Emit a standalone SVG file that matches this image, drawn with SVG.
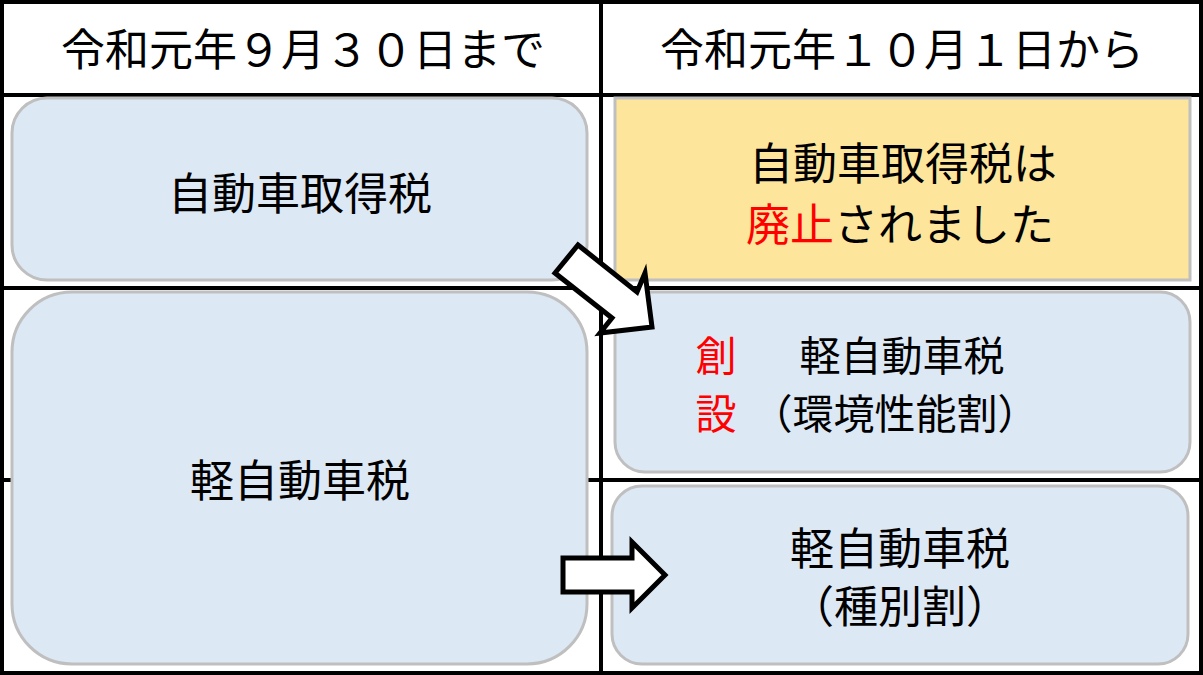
<svg xmlns="http://www.w3.org/2000/svg" width="1203" height="675" viewBox="0 0 1203 675">
<style>
text{font-family:"Noto Sans CJK JP","Noto Sans CJK SC",sans-serif;fill:#000;text-anchor:middle;dominant-baseline:central}
.h{font-size:44px}.t{font-size:44px}.s{font-size:41px}.r{fill:#ff0000}
.b{fill:#dde8f5;stroke:#bfbfbf;stroke-width:3}
.ln{stroke:#000;stroke-width:4}
.ar{fill:#fff;stroke:#000;stroke-width:5;stroke-linejoin:miter}
</style>
<rect width="1203" height="675" fill="#fff"/>
<g id="grid">
<line class="ln" x1="0" y1="95" x2="1203" y2="95"/>
<line class="ln" x1="0" y1="288" x2="1203" y2="288"/>
<line class="ln" x1="0" y1="480" x2="1203" y2="480"/>
<rect x="2" y="2" width="1199" height="671" fill="none" stroke="#000" stroke-width="4"/>
</g>
<g id="h1"><text class="h" x="303" y="47">令和元年９月３０日まで</text></g>
<g id="h2"><text class="h" x="902" y="47">令和元年１０月１日から</text></g>
<g id="n1"><rect class="b" x="12" y="98" width="575" height="182" rx="35"/><text class="t" x="300" y="191">自動車取得税</text></g>
<g id="n2"><rect class="b" x="12" y="292" width="575" height="372" rx="60"/><text class="t" x="300" y="478">軽自動車税</text></g>
<g id="n3"><rect x="615" y="98" width="575" height="182" fill="#fee59c" stroke="#bfbfbf" stroke-width="3"/><text class="t" x="903" y="161">自動車取得税は</text><text class="t" x="900" y="222"><tspan class="r">廃止</tspan>されました</text></g>
<g id="n4"><rect class="b" x="615" y="292" width="575" height="180" rx="30"/><text class="s r" x="716" y="353">創</text><text class="s r" x="716" y="411">設</text><text class="s" x="902" y="353">軽自動車税</text><text class="s" x="895" y="411">（環境性能割）</text></g>
<g id="n5"><rect class="b" x="612" y="486" width="576" height="178" rx="30"/><text class="t" x="900" y="546">軽自動車税</text><text class="t" x="900" y="604">（種別割）</text></g>
<line class="ln" x1="601" y1="0" x2="601" y2="675"/>
<g id="connectors">
<polygon class="ar" points="578,245 637,292 645,273 652,327 600,333 612,318 555,273"/>
<polygon class="ar" points="563,558 632,558 632,542 665,575 632,608 632,592 563,592"/>
</g>
</svg>
